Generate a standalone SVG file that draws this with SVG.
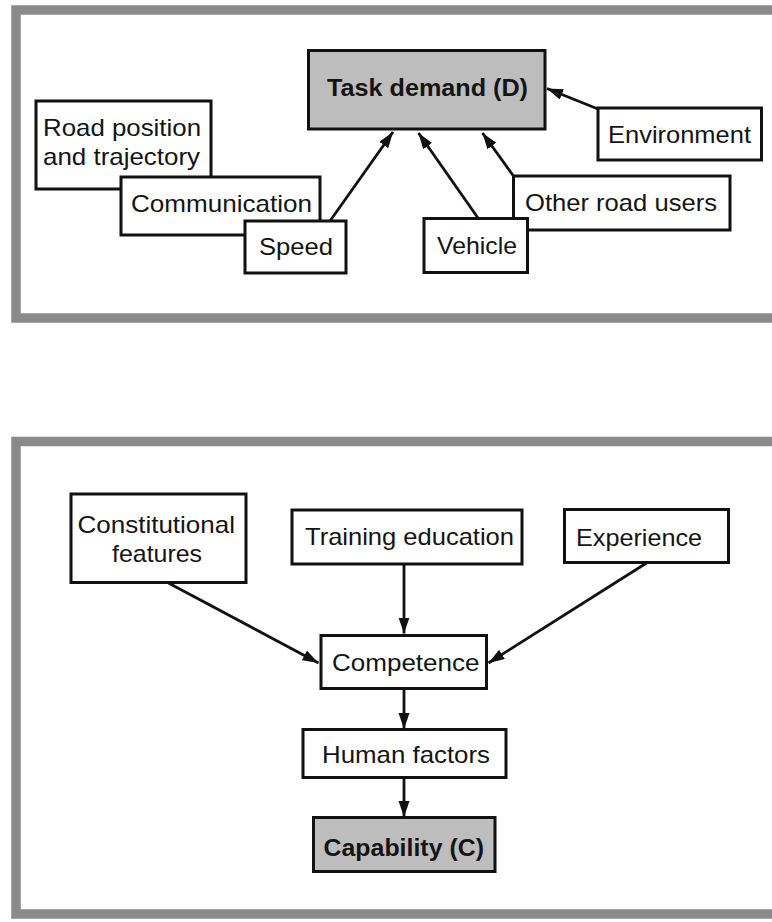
<svg xmlns="http://www.w3.org/2000/svg" width="772" height="922" viewBox="0 0 772 922">
  <style>
    .frame { fill: none; stroke: #8a8a8a; stroke-width: 9.5; }
    .box { fill: #ffffff; stroke: #111111; stroke-width: 3; }
    .key { fill: #bdbdbd; stroke: #111111; stroke-width: 3; }
    .lbl { font-family: "Liberation Sans", Arial, Helvetica, sans-serif; font-size: 24px; fill: #141414; }
    .bold { font-weight: bold; }
    .conn { stroke: #111111; stroke-width: 2.8; fill: none; marker-end: url(#arrow); }
  </style>
  <defs>
    <marker id="arrow" markerUnits="userSpaceOnUse" markerWidth="17" markerHeight="12" refX="16" refY="5.5" orient="auto">
      <path d="M0,0 L16,5.5 L0,11 Z" fill="#111111"/>
    </marker>
  </defs>

  <rect width="772" height="922" fill="#ffffff"/>

  <!-- panel frames (open on the right edge) -->
  <rect class="frame" x="16" y="10" width="800" height="308"/>
  <rect class="frame" x="16" y="441.5" width="800" height="472.5"/>

  <!-- upper panel: task demand -->
  <g id="task-demand">
    <rect class="key" x="308.5" y="50.5" width="236.5" height="78.5"/>
    <text class="lbl bold" x="327" y="96" textLength="201" lengthAdjust="spacingAndGlyphs">Task demand (D)</text>
  </g>
  <g id="environment">
    <rect class="box" x="598" y="108" width="163.5" height="52"/>
    <text class="lbl" x="608" y="143" textLength="143" lengthAdjust="spacingAndGlyphs">Environment</text>
  </g>
  <g id="road-position">
    <rect class="box" x="36" y="101" width="175" height="88"/>
    <text class="lbl" x="43" y="135.5" textLength="158" lengthAdjust="spacingAndGlyphs">Road position</text>
    <text class="lbl" x="43" y="164.5" textLength="157" lengthAdjust="spacingAndGlyphs">and trajectory</text>
  </g>
  <g id="communication">
    <rect class="box" x="121" y="177" width="199" height="58"/>
    <text class="lbl" x="131" y="212" textLength="181" lengthAdjust="spacingAndGlyphs">Communication</text>
  </g>
  <g id="speed">
    <rect class="box" x="245" y="221" width="101" height="52"/>
    <text class="lbl" x="259" y="254.5" textLength="74" lengthAdjust="spacingAndGlyphs">Speed</text>
  </g>
  <g id="other-road-users">
    <rect class="box" x="513.5" y="176" width="216.5" height="54"/>
    <text class="lbl" x="525" y="210.5" textLength="192" lengthAdjust="spacingAndGlyphs">Other road users</text>
  </g>
  <g id="vehicle">
    <rect class="box" x="424" y="218.5" width="103.5" height="54"/>
    <text class="lbl" x="437" y="254" textLength="80" lengthAdjust="spacingAndGlyphs">Vehicle</text>
  </g>

  <!-- lower panel: capability -->
  <g id="constitutional-features">
    <rect class="box" x="71" y="494" width="175" height="88.5"/>
    <text class="lbl" x="77.5" y="533" textLength="157.5" lengthAdjust="spacingAndGlyphs">Constitutional</text>
    <text class="lbl" x="112" y="562" textLength="90" lengthAdjust="spacingAndGlyphs">features</text>
  </g>
  <g id="training-education">
    <rect class="box" x="292" y="510" width="230" height="54"/>
    <text class="lbl" x="305" y="544.5" textLength="209" lengthAdjust="spacingAndGlyphs">Training education</text>
  </g>
  <g id="experience">
    <rect class="box" x="564.5" y="509.5" width="164" height="53"/>
    <text class="lbl" x="576" y="545.5" textLength="126" lengthAdjust="spacingAndGlyphs">Experience</text>
  </g>
  <g id="competence">
    <rect class="box" x="321" y="635.5" width="165.5" height="53"/>
    <text class="lbl" x="332" y="670.5" textLength="147.5" lengthAdjust="spacingAndGlyphs">Competence</text>
  </g>
  <g id="human-factors">
    <rect class="box" x="303" y="729.5" width="203" height="48"/>
    <text class="lbl" x="322" y="763" textLength="168" lengthAdjust="spacingAndGlyphs">Human factors</text>
  </g>
  <g id="capability">
    <rect class="key" x="313.5" y="817.5" width="181.5" height="54"/>
    <text class="lbl bold" x="323.5" y="855.5" textLength="160.5" lengthAdjust="spacingAndGlyphs">Capability (C)</text>
  </g>

  <!-- connectors -->
  <g id="connectors">
    <line class="conn" x1="330" y1="221" x2="393" y2="132"/>
    <line class="conn" x1="478" y1="218" x2="418.5" y2="133"/>
    <line class="conn" x1="513.5" y1="176" x2="482.5" y2="133"/>
    <line class="conn" x1="598" y1="109" x2="547" y2="88.5"/>
    <line class="conn" x1="168.5" y1="583" x2="318.5" y2="663"/>
    <line class="conn" x1="404" y1="564" x2="404" y2="633.5"/>
    <line class="conn" x1="646.5" y1="563" x2="488.5" y2="663"/>
    <line class="conn" x1="404" y1="688.5" x2="404" y2="729"/>
    <line class="conn" x1="404" y1="777.5" x2="404" y2="817"/>
  </g>
</svg>
